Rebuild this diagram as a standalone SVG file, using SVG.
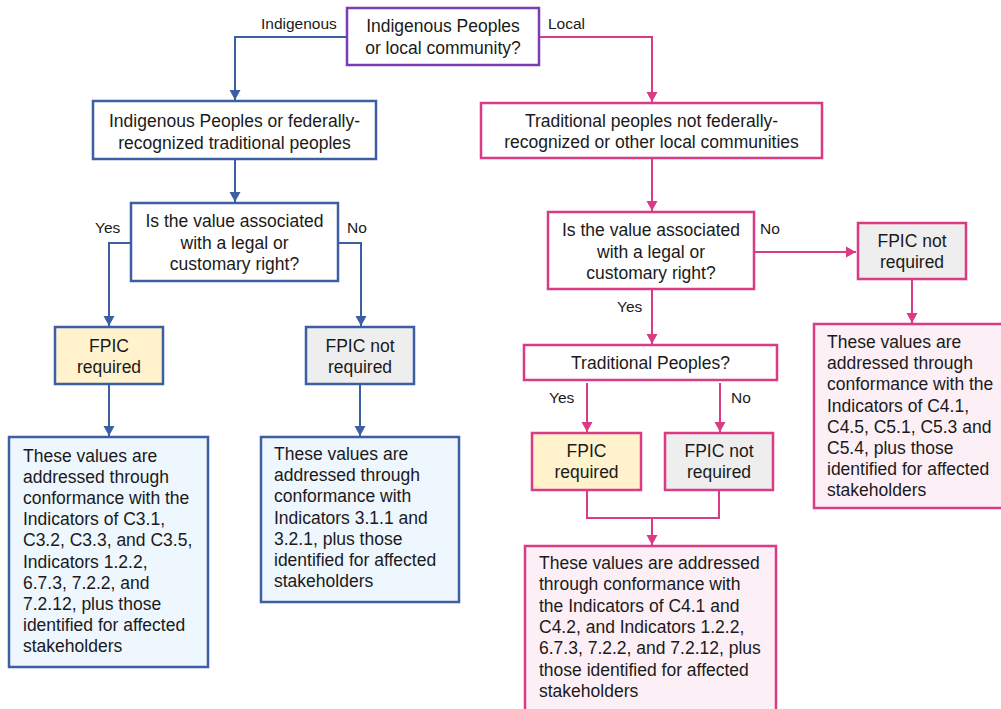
<svg xmlns="http://www.w3.org/2000/svg" width="1001" height="709" viewBox="0 0 1001 709">
<style>
  text { font-family: "Liberation Sans", Arial, sans-serif; fill: #1a1a1a; }
  .t { font-size: 17.5px; }
  .c { text-anchor: middle; }
  .lbl { font-size: 15.5px; }
  .bb { stroke: #3C5EA3; stroke-width: 2.5; }
  .pb { stroke: #DB3A85; stroke-width: 2.5; }
  .pu { stroke: #7A3DB5; stroke-width: 2.5; fill: #fff; }
  .w { fill: #ffffff; }
  .y { fill: #FFF2CC; }
  .g { fill: #EEEEEE; }
  .lb { fill: #EEF6FE; }
  .lp { fill: #FDEFF6; }
  .cb { fill: none; stroke: #3C5EA3; stroke-width: 2; }
  .cp { fill: none; stroke: #DB3A85; stroke-width: 2; }
</style>
<defs>
  <marker id="ab" markerUnits="userSpaceOnUse" markerWidth="12" markerHeight="12" refX="10" refY="6" orient="auto">
    <path d="M0,0.5 L10,6 L0,11.5 Z" fill="#3C5EA3"/>
  </marker>
  <marker id="ap" markerUnits="userSpaceOnUse" markerWidth="12" markerHeight="12" refX="10" refY="6" orient="auto">
    <path d="M0,0.5 L10,6 L0,11.5 Z" fill="#DB3A85"/>
  </marker>
</defs>
<rect width="1001" height="709" fill="#ffffff"/>

<g id="connectors">
  <path class="cb" d="M347,37 H235 V100" marker-end="url(#ab)"/>
  <path class="cb" d="M235,159 V202" marker-end="url(#ab)"/>
  <path class="cb" d="M131,243 H109 V326" marker-end="url(#ab)"/>
  <path class="cb" d="M338,243 H361 V326" marker-end="url(#ab)"/>
  <path class="cb" d="M109,384 V436" marker-end="url(#ab)"/>
  <path class="cb" d="M360,384 V436" marker-end="url(#ab)"/>
  <path class="cp" d="M539,37 H652 V102" marker-end="url(#ap)"/>
  <path class="cp" d="M652,158 V211" marker-end="url(#ap)"/>
  <path class="cp" d="M754,252 H856" marker-end="url(#ap)"/>
  <path class="cp" d="M912,279 V323" marker-end="url(#ap)"/>
  <path class="cp" d="M652,289 V344" marker-end="url(#ap)"/>
  <path class="cp" d="M587,383 V432" marker-end="url(#ap)"/>
  <path class="cp" d="M720,383 V432" marker-end="url(#ap)"/>
  <path class="cp" d="M587,490 V518 H719 V490"/>
  <path class="cp" d="M652,518 V545" marker-end="url(#ap)"/>
  <text class="lbl" x="261" y="29">Indigenous</text>
  <text class="lbl" x="548" y="29">Local</text>
  <text class="lbl" x="95" y="233">Yes</text>
  <text class="lbl" x="347" y="233">No</text>
  <text class="lbl" x="760" y="234">No</text>
  <text class="lbl" x="617" y="312">Yes</text>
  <text class="lbl" x="549" y="403">Yes</text>
  <text class="lbl" x="731" y="403">No</text>
</g>

<g id="n-top">
  <rect class="pu" x="347" y="8" width="192" height="57"/>
  <text class="t c" x="443" y="32">Indigenous Peoples</text>
  <text class="t c" x="443" y="53.5">or local community?</text>
</g>

<g id="n-indigenous">
  <rect class="bb w" x="93" y="101" width="283" height="58"/>
  <text class="t c" x="234.5" y="127">Indigenous Peoples or federally-</text>
  <text class="t c" x="234.5" y="148.5">recognized traditional peoples</text>
</g>

<g id="n-local">
  <rect class="pb w" x="481" y="103" width="341" height="55"/>
  <text class="t c" x="651.5" y="127">Traditional peoples not federally-</text>
  <text class="t c" x="651.5" y="148">recognized or other local communities</text>
</g>

<g id="n-q-left">
  <rect class="bb w" x="131" y="203" width="207" height="78"/>
  <text class="t c" x="234.5" y="227">Is the value associated</text>
  <text class="t c" x="234.5" y="248.5">with a legal or</text>
  <text class="t c" x="234.5" y="270">customary right?</text>
</g>

<g id="n-fpic-left">
  <rect class="bb y" x="55" y="327" width="108" height="57"/>
  <text class="t c" x="109" y="352">FPIC</text>
  <text class="t c" x="109" y="373">required</text>
</g>

<g id="n-nofpic-left">
  <rect class="bb g" x="306" y="327" width="108" height="57"/>
  <text class="t c" x="360" y="352">FPIC not</text>
  <text class="t c" x="360" y="373">required</text>
</g>

<g id="n-res-left1">
  <rect class="bb lb" x="9" y="437" width="199" height="230"/>
  <text class="t" x="23" y="462">These values are</text>
  <text class="t" x="23" y="483.1">addressed through</text>
  <text class="t" x="23" y="504.2">conformance with the</text>
  <text class="t" x="23" y="525.3">Indicators of C3.1,</text>
  <text class="t" x="23" y="546.4">C3.2, C3.3, and C3.5,</text>
  <text class="t" x="23" y="567.5">Indicators 1.2.2,</text>
  <text class="t" x="23" y="588.6">6.7.3, 7.2.2, and</text>
  <text class="t" x="23" y="609.7">7.2.12, plus those</text>
  <text class="t" x="23" y="630.8">identified for affected</text>
  <text class="t" x="23" y="651.9">stakeholders</text>
</g>

<g id="n-res-left2">
  <rect class="bb lb" x="261" y="437" width="198" height="165"/>
  <text class="t" x="274" y="460">These values are</text>
  <text class="t" x="274" y="481.2">addressed through</text>
  <text class="t" x="274" y="502.4">conformance with</text>
  <text class="t" x="274" y="523.6">Indicators 3.1.1 and</text>
  <text class="t" x="274" y="544.8">3.2.1, plus those</text>
  <text class="t" x="274" y="566">identified for affected</text>
  <text class="t" x="274" y="587.2">stakeholders</text>
</g>

<g id="n-q-right">
  <rect class="pb w" x="548" y="212" width="206" height="77"/>
  <text class="t c" x="651" y="236">Is the value associated</text>
  <text class="t c" x="651" y="257.5">with a legal or</text>
  <text class="t c" x="651" y="279">customary right?</text>
</g>

<g id="n-nofpic-right">
  <rect class="pb g" x="858" y="223" width="108" height="56"/>
  <text class="t c" x="912" y="247">FPIC not</text>
  <text class="t c" x="912" y="268">required</text>
</g>

<g id="n-res-right1">
  <rect class="pb lp" x="814" y="324" width="189" height="184"/>
  <text class="t" x="827" y="348">These values are</text>
  <text class="t" x="827" y="369.2">addressed through</text>
  <text class="t" x="827" y="390.4">conformance with the</text>
  <text class="t" x="827" y="411.6">Indicators of C4.1,</text>
  <text class="t" x="827" y="432.8">C4.5, C5.1, C5.3 and</text>
  <text class="t" x="827" y="454">C5.4, plus those</text>
  <text class="t" x="827" y="475.2">identified for affected</text>
  <text class="t" x="827" y="496.4">stakeholders</text>
</g>

<g id="n-traditional">
  <rect class="pb w" x="524" y="345" width="253" height="35"/>
  <text class="t c" x="650.5" y="369">Traditional Peoples?</text>
</g>

<g id="n-fpic-right">
  <rect class="pb y" x="532" y="433" width="109" height="57"/>
  <text class="t c" x="586.5" y="457">FPIC</text>
  <text class="t c" x="586.5" y="478">required</text>
</g>

<g id="n-nofpic-right2">
  <rect class="pb g" x="665" y="433" width="108" height="57"/>
  <text class="t c" x="719" y="457">FPIC not</text>
  <text class="t c" x="719" y="478">required</text>
</g>

<g id="n-res-right2">
  <rect class="pb lp" x="525" y="546" width="251" height="168"/>
  <text class="t" x="539" y="569">These values are addressed</text>
  <text class="t" x="539" y="590.3">through conformance with</text>
  <text class="t" x="539" y="611.6">the Indicators of C4.1 and</text>
  <text class="t" x="539" y="632.9">C4.2, and Indicators 1.2.2,</text>
  <text class="t" x="539" y="654.2">6.7.3, 7.2.2, and 7.2.12, plus</text>
  <text class="t" x="539" y="675.5">those identified for affected</text>
  <text class="t" x="539" y="696.8">stakeholders</text>
</g>
</svg>
